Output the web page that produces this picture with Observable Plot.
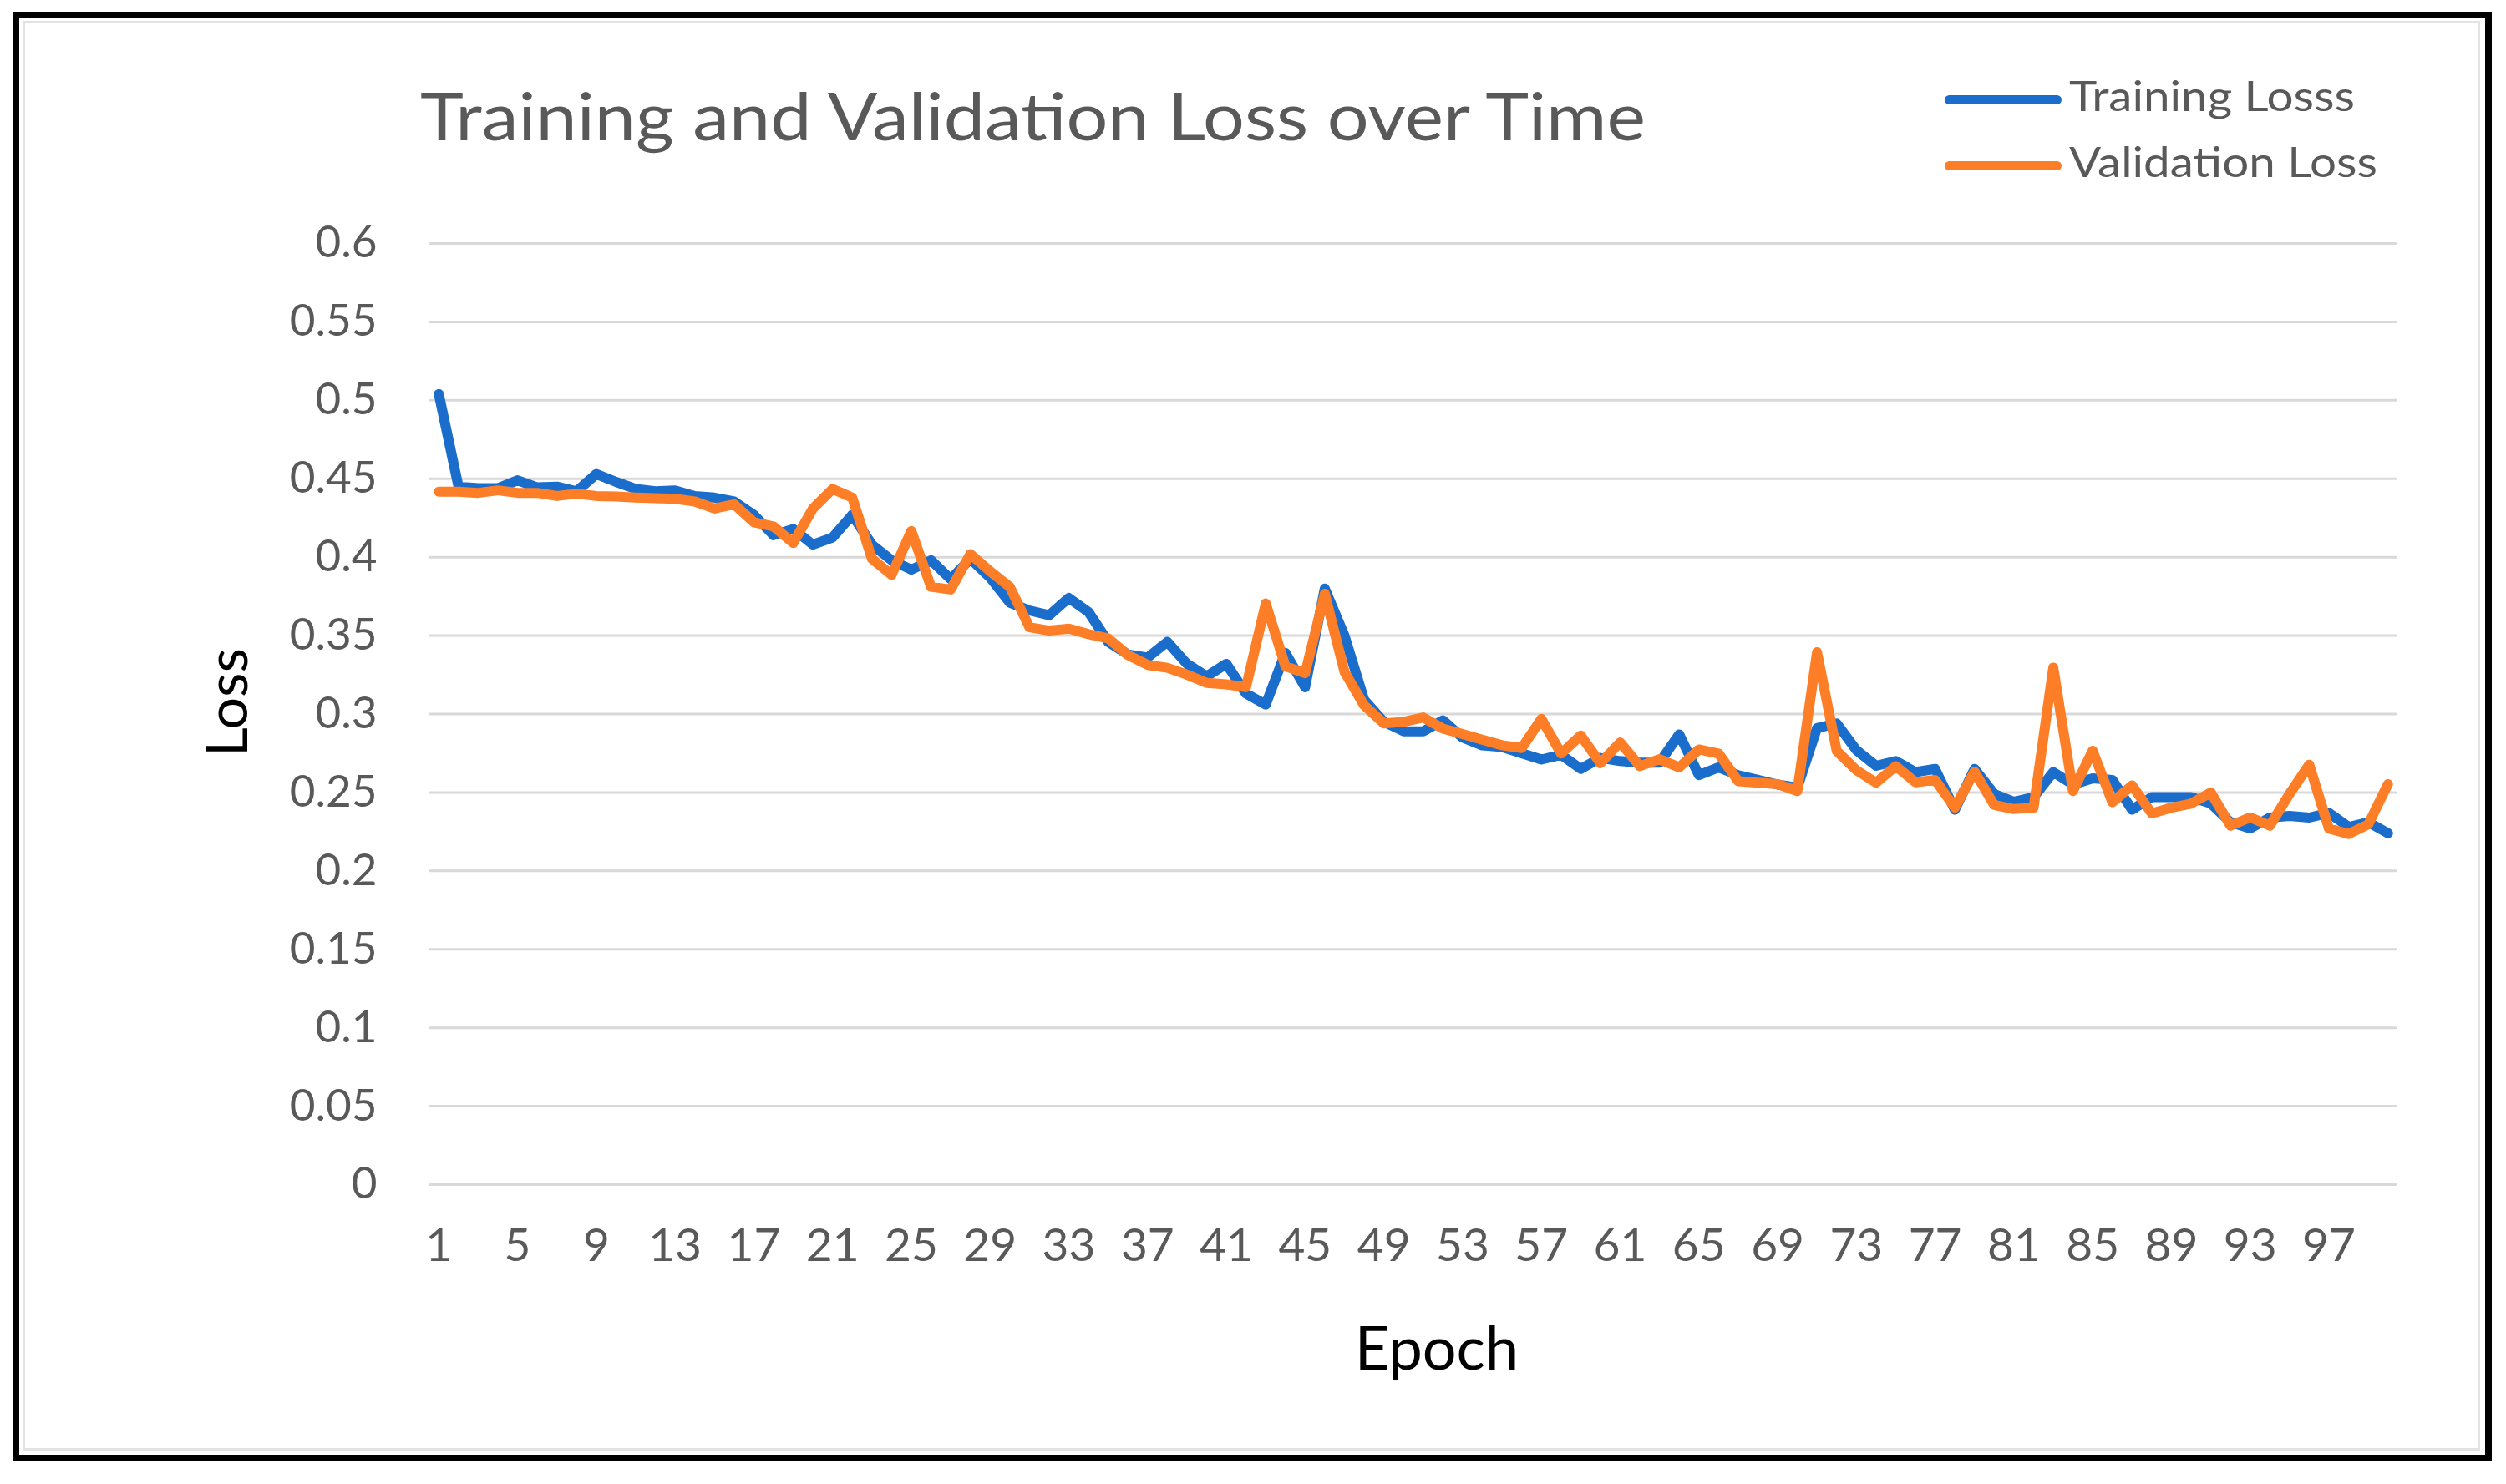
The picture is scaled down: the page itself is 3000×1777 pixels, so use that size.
<!DOCTYPE html>
<html>
<head>
<meta charset="utf-8">
<script src="https://cdn.jsdelivr.net/npm/d3@7"></script>
<script src="https://cdn.jsdelivr.net/npm/@observablehq/plot@0.6"></script>
<style>
  html, body { margin: 0; padding: 0; background: #ffffff; }
  #wrap { position: relative; width: 3000px; height: 1777px; overflow: hidden; font-family: Lato, "Open Sans", sans-serif; }
  #wrap svg { position: absolute; left: 0; top: 0; }
  .abs { position: absolute; line-height: 1; white-space: nowrap; }
  #outer { position: absolute; left: 15px; top: 14px; width: 2968px; height: 1736px; border: 8px solid #000; box-sizing: border-box; }
  #inner { position: absolute; left: 27px; top: 25px; width: 2942px; height: 1712px; border: 3px solid #e3e3e3; box-sizing: border-box; }
  .sw { position: absolute; height: 11px; border-radius: 6px; }
</style>
</head>
<body>
<div id="wrap">
  <div id="outer"></div>
  <div id="inner"></div>
</div>
<script>
// ---- data ----
const epochs = [1,2,3,4,5,6,7,8,9,10,11,12,13,14,15,16,17,18,19,20,21,22,23,24,25,26,27,28,29,30,31,32,33,34,35,36,37,38,39,40,41,42,43,44,45,46,47,48,49,50,51,52,53,54,55,56,57,58,59,60,61,62,63,64,65,66,67,68,69,70,71,72,73,74,75,76,77,78,79,80,81,82,83,84,85,86,87,88,89,90,91,92,93,94,95,96,97,98,99,100];

const trainingLoss = [
  0.504, 0.445, 0.444, 0.444, 0.449, 0.4445, 0.445, 0.442, 0.453, 0.448,
  0.4435, 0.442, 0.4425, 0.439, 0.438, 0.4355, 0.427, 0.414, 0.418, 0.408,
  0.4125, 0.427, 0.408, 0.398, 0.392, 0.398, 0.386, 0.399, 0.387, 0.371,
  0.366, 0.363, 0.374, 0.365, 0.346, 0.338, 0.336, 0.346, 0.332, 0.324,
  0.332, 0.313, 0.306, 0.339, 0.317, 0.380, 0.350, 0.309, 0.295, 0.289,
  0.289, 0.296, 0.285, 0.280, 0.279, 0.275, 0.271, 0.274, 0.265, 0.272,
  0.270, 0.269, 0.269, 0.287, 0.261, 0.266, 0.261, 0.258, 0.255, 0.253,
  0.291, 0.294, 0.277, 0.267, 0.270, 0.263, 0.265, 0.239, 0.265, 0.249,
  0.244, 0.247, 0.263, 0.255, 0.259, 0.258, 0.239, 0.247, 0.247, 0.247,
  0.243, 0.231, 0.227, 0.234, 0.235, 0.234, 0.237, 0.228, 0.231, 0.224
];

const validationLoss = [
  0.4417, 0.4417, 0.441, 0.4426, 0.441, 0.441, 0.439, 0.4405, 0.439, 0.4387,
  0.438, 0.4376, 0.4372, 0.4355, 0.431, 0.4337, 0.4223, 0.4196, 0.409, 0.431,
  0.4435, 0.438, 0.399, 0.3887, 0.4167, 0.3811, 0.3794, 0.402, 0.391, 0.3811,
  0.3553, 0.3532, 0.3544, 0.3509, 0.3482, 0.3376, 0.3313, 0.3295, 0.3251, 0.3198,
  0.3189, 0.3171, 0.3705, 0.3304, 0.326, 0.3767, 0.3269, 0.3055, 0.294, 0.295,
  0.2978, 0.2907, 0.2872, 0.2836, 0.2801, 0.2783, 0.2969, 0.2748, 0.2863, 0.2686,
  0.2819, 0.2668, 0.2712, 0.266, 0.2774, 0.2748, 0.2571, 0.2562, 0.2553, 0.2509,
  0.3394, 0.2765, 0.2642, 0.2562, 0.2668, 0.2565, 0.258, 0.2403, 0.2633, 0.242,
  0.2394, 0.2403, 0.3296, 0.2509, 0.2766, 0.2438, 0.2545, 0.2367, 0.2403, 0.2429,
  0.25, 0.2288, 0.2341, 0.2288, 0.2491, 0.2677, 0.227, 0.2235, 0.2297, 0.2553
];

const seriesNames = ["Training Losss", "Validation Loss"];
const seriesColors = ["#1b6dcc", "#fd7e27"];
const xTicks = [1,5,9,13,17,21,25,29,33,37,41,45,49,53,57,61,65,69,73,77,81,85,89,93,97];
const yTicks = [0,0.05,0.1,0.15,0.2,0.25,0.3,0.35,0.4,0.45,0.5,0.55,0.6];
const titleText = "Training and Validation Loss over Time";
const xLabel = "Epoch";
const yLabel = "Loss";

// ---- build ----
const trainRows = epochs.map((e, i) => ({epoch: e, loss: trainingLoss[i]}));
const valRows = epochs.map((e, i) => ({epoch: e, loss: validationLoss[i]}));

const chart = Plot.plot({
  width: 3000,
  height: 1777,
  marginLeft: 513,
  marginRight: 130,
  marginTop: 291,
  marginBottom: 359,
  style: {background: "transparent", fontFamily: "Lato, 'Open Sans', sans-serif", overflow: "visible"},
  x: {domain: [0.5, 100.5]},
  y: {domain: [0, 0.6]},
  marks: [
    Plot.gridY(yTicks, {stroke: "#d9d9d9", strokeOpacity: 1, strokeWidth: 3}),
    Plot.axisY(yTicks, {
      tickSize: 0, tickPadding: 62, fontSize: 53, color: "#595959", fill: "#595959",
      label: null, tickFormat: d => String(+d.toFixed(2))
    }),
    Plot.axisX(xTicks, {
      tickSize: 0, tickPadding: 52, fontSize: 55, color: "#595959", fill: "#595959",
      label: null, tickFormat: d => String(d)
    }),
    Plot.line(trainRows, {x: "epoch", y: "loss", stroke: seriesColors[0], strokeWidth: 12, strokeLinejoin: "round", strokeLinecap: "round"}),
    Plot.line(valRows, {x: "epoch", y: "loss", stroke: seriesColors[1], strokeWidth: 12, strokeLinejoin: "round", strokeLinecap: "round"})
  ]
});

const wrap = document.getElementById("wrap");
wrap.appendChild(chart);

function addText(txt, css, targetWidth) {
  const d = document.createElement("div");
  d.className = "abs";
  d.textContent = txt;
  Object.assign(d.style, css);
  wrap.appendChild(d);
  if (targetWidth) {
    const w = d.getBoundingClientRect().width;
    if (w > 0) {
      d.style.transformOrigin = "0 0";
      d.style.transform = "scaleX(" + (targetWidth / w) + ")";
    }
  }
  return d;
}

addText(titleText, {left: "503px", top: "98px", fontSize: "79px", color: "#595959"}, 1467);
addText(xLabel, {left: "1720px", top: "1576px", fontSize: "72px", color: "#000", transform: "translateX(-50%)"});
addText(yLabel, {left: "270px", top: "841px", fontSize: "68px", color: "#000", transform: "translate(-50%,-50%) rotate(-90deg)"});

// legend
const legendTops = [89, 168];
const legendLineY = [114, 193];
const legendWidths = [342, 369];
seriesNames.forEach((name, i) => {
  const sw = document.createElement("div");
  sw.className = "sw";
  Object.assign(sw.style, {left: "2328px", top: legendLineY[i] + "px", width: "140px", background: seriesColors[i]});
  wrap.appendChild(sw);
  addText(name, {left: "2477px", top: legendTops[i] + "px", fontSize: "50px", color: "#595959"}, legendWidths[i]);
});
</script>
</body>
</html>
